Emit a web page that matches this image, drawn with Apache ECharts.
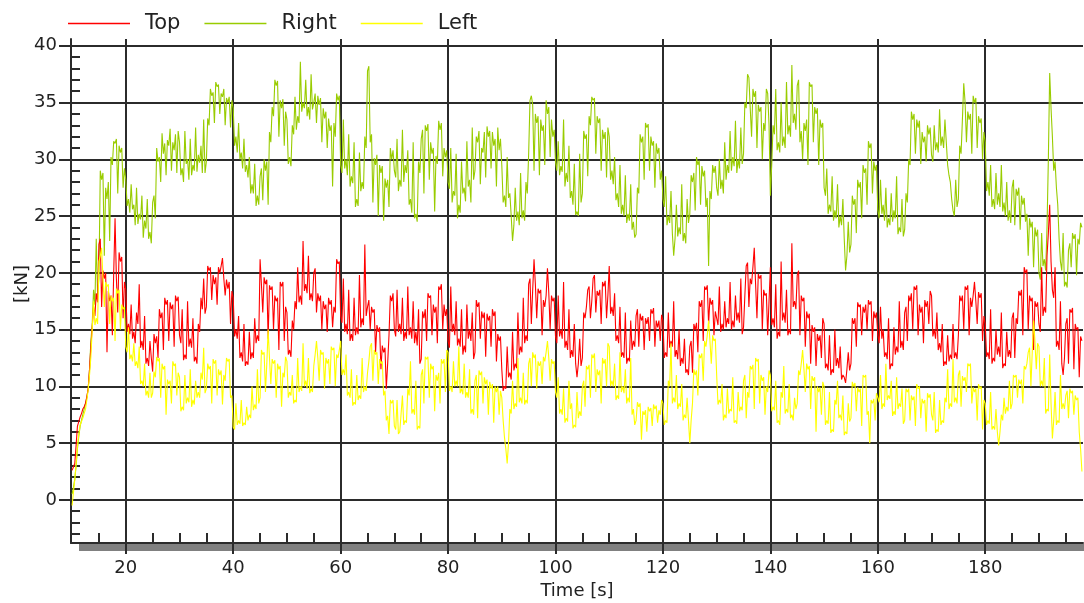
<!DOCTYPE html>
<html>
<head>
<meta charset="utf-8">
<script src="https://cdn.jsdelivr.net/npm/echarts@6/dist/echarts.min.js"></script>
<style>
html,body{margin:0;padding:0;background:#fff;}
#chart{width:1084px;height:603px;}
</style>
</head>
<body>
<div id="chart"></div>
<script>
// sampling of the traces: main samples every 0.5 s from 10 s, mid samples 0.25 s after each main sample
const T0 = 10, DT = 0.5, MID_OFFSET = 0.25;

const seriesNames = ['Top', 'Right', 'Left'];

// Right [kN] — main samples
const rightValues = [
0.5,1.8,4.5,6.5,7.5,8.5,9.8,14.0,18.5,23.0,19.5,28.2,21.5,26.5,22.8,29.5,31.4,27.0,30.6,27.5,
28.2,26.5,27.8,26.0,27.5,25.2,26.8,24.6,26.5,23.6,26.2,24.8,29.8,28.0,30.5,28.6,31.2,29.0,30.8,28.8,
31.5,29.2,32.5,30.0,31.8,29.5,32.8,30.4,31.2,33.5,29.8,33.0,35.6,33.2,36.4,34.0,35.5,33.0,35.0,32.8,
34.5,32.0,33.2,30.6,31.8,29.5,30.2,27.8,29.6,26.8,28.5,26.4,29.0,26.0,31.5,33.8,36.5,32.0,34.5,31.2,
33.5,30.2,33.0,35.5,33.8,38.6,35.0,37.0,34.6,37.5,35.0,33.2,34.8,31.5,33.6,31.0,32.5,27.6,32.0,35.2,
29.5,33.5,30.0,32.2,28.5,31.5,26.5,30.6,28.0,32.0,37.8,31.5,26.2,29.5,25.0,28.8,24.6,27.5,25.8,30.0,
29.0,31.8,28.2,32.6,29.5,30.8,26.5,31.5,25.2,29.8,31.8,27.0,32.5,28.2,30.5,25.4,29.6,32.6,28.5,30.2,
28.0,31.0,27.2,30.5,26.0,29.8,27.5,31.6,28.2,32.8,29.0,31.5,27.8,30.6,28.4,32.0,29.2,31.2,27.6,30.8,
29.5,26.8,30.2,27.0,22.8,27.5,25.4,28.8,25.5,28.0,30.5,35.6,29.0,33.2,28.6,32.5,29.5,34.0,30.2,32.0,
29.8,31.6,29.4,33.5,28.8,31.2,27.2,29.6,25.4,30.5,27.0,31.8,28.5,33.0,35.2,30.5,33.2,29.0,31.8,28.4,
32.0,29.0,30.2,27.0,29.5,26.0,28.6,25.2,27.8,24.5,23.4,27.0,31.5,28.2,32.8,29.0,31.2,27.5,30.5,28.2,
26.5,28.5,25.0,27.2,21.5,26.0,24.0,27.8,23.5,26.5,25.2,28.0,25.5,29.5,26.0,28.5,25.8,20.6,26.5,28.8,
27.5,30.0,28.2,31.5,29.5,32.5,30.2,33.4,30.0,32.8,30.5,34.5,37.2,32.0,35.5,31.0,34.2,30.0,32.5,35.8,
26.8,33.0,36.2,31.5,35.0,32.0,36.8,33.0,38.3,34.0,36.5,31.5,30.0,32.5,29.5,36.4,31.5,34.0,29.5,32.8,
27.5,29.2,26.0,28.5,25.5,27.8,25.0,26.5,20.2,24.5,22.5,26.0,23.5,27.5,24.8,28.8,26.0,31.0,27.0,29.0,
25.5,28.2,26.0,27.5,24.8,27.0,25.5,28.5,24.0,26.5,23.8,26.2,29.5,33.5,30.5,32.8,29.6,31.5,29.8,32.2,
30.4,33.0,31.5,34.4,32.0,33.5,29.5,28.0,25.5,28.2,26.5,30.5,36.7,31.5,33.5,30.5,35.0,31.0,33.2,30.0,
31.5,28.0,29.5,26.5,28.8,27.0,29.5,26.2,28.0,25.5,27.5,24.2,26.8,23.8,26.0,24.5,21.5,24.0,20.5,23.2,
20.0,23.5,21.2,24.0,37.6,32.0,29.8,26.0,21.0,23.5,19.2,22.0,20.5,23.0,19.8,22.5,24.0
];
// Right [kN] — mid samples
const rightMid = [
1.1,3.0,5.6,7.0,8.0,9.0,11.5,15.5,17.2,18.0,29.0,28.8,27.5,28.0,30.2,31.6,31.8,31.2,31.0,29.2,
25.9,25.3,25.6,24.2,24.3,24.7,23.1,23.9,23.0,22.6,26.8,31.0,30.2,32.3,31.4,31.7,32.7,31.5,32.2,32.5,
28.6,28.0,29.6,28.2,28.6,29.0,28.9,29.7,28.8,28.8,33.6,36.2,35.9,36.8,36.6,35.8,36.2,35.4,35.5,35.2,
31.2,30.6,30.0,29.2,28.9,28.4,27.0,27.0,25.9,26.0,29.2,30.0,29.8,32.4,34.6,37.0,36.9,35.2,35.3,34.2,
29.6,29.4,32.2,32.6,33.2,34.2,34.5,33.8,33.5,34.4,35.8,35.6,35.4,34.5,34.2,33.6,33.0,33.2,35.8,35.6,
28.8,29.2,28.6,27.6,27.9,25.8,25.9,27.2,27.4,31.0,38.2,32.2,30.1,30.4,29.5,29.4,28.3,28.2,31.0,30.8,
28.4,27.2,27.6,28.0,28.8,26.0,25.3,24.8,24.5,28.8,32.6,33.0,33.1,31.5,31.0,30.3,33.4,33.2,31.0,30.8,
27.4,26.2,26.8,24.8,25.3,27.0,26.3,27.6,26.2,28.2,32.0,32.5,31.0,32.4,32.9,32.5,32.4,31.8,32.8,31.8,
26.2,25.8,26.6,25.0,24.2,24.6,24.2,24.8,24.6,27.0,35.2,34.8,34.0,33.8,33.5,33.0,35.2,34.6,33.5,32.6,
29.0,28.6,28.9,27.6,28.0,26.6,26.0,25.1,25.0,26.2,32.5,32.2,33.8,35.5,35.4,33.8,33.6,32.6,32.4,32.8,
28.2,27.8,26.4,25.8,25.2,25.0,24.4,24.6,23.8,23.1,27.5,32.2,32.0,33.2,33.1,32.0,31.6,31.4,31.0,29.0,
25.8,24.2,24.4,23.5,23.0,23.2,23.4,22.8,22.6,24.4,28.6,28.8,30.2,29.9,29.4,29.0,26.6,27.2,29.5,29.4,
26.8,27.4,27.0,28.2,28.8,29.0,29.4,28.8,29.2,29.6,35.0,37.5,34.5,36.2,36.0,34.8,34.6,33.2,36.2,33.0,
29.5,32.2,30.8,30.6,31.2,31.0,32.2,32.0,33.2,32.6,37.0,32.5,33.2,33.5,36.8,36.6,34.6,34.5,33.5,33.2,
26.8,25.2,25.4,24.6,24.8,24.0,24.2,23.0,21.5,21.8,26.8,26.5,28.2,28.0,29.5,29.2,31.6,31.4,29.8,29.5,
24.8,25.2,24.6,24.0,24.2,24.5,24.8,23.4,23.6,23.2,27.0,30.0,34.2,34.0,33.5,33.4,32.4,32.0,33.0,32.8,
29.8,30.8,30.6,31.2,31.0,31.5,28.6,26.5,25.0,25.8,31.2,33.5,35.0,34.2,34.0,35.6,35.4,33.8,33.6,32.4,
27.2,26.8,25.8,25.6,26.0,25.8,25.4,25.0,24.6,24.4,28.2,27.4,27.5,26.8,26.6,25.2,24.8,24.5,24.0,23.8,
19.4,20.6,20.2,30.0,34.5,29.0,27.5,23.0,20.2,18.8,18.7,22.6,23.5,23.4,23.0,24.4
];

// Top [kN] — main samples
const topValues = [
2.6,3.2,6.5,7.3,8.0,8.5,9.8,13.5,17.0,18.2,22.5,17.0,19.5,13.0,17.5,14.5,24.8,16.5,21.0,16.0,
18.5,15.5,17.2,14.8,16.5,19.0,14.0,16.2,12.5,14.0,11.3,13.8,12.5,16.0,13.2,17.2,14.0,16.8,13.5,17.5,
14.5,16.8,12.8,17.5,14.2,16.0,12.6,15.5,17.8,19.5,17.0,20.2,17.6,19.0,17.2,20.0,21.3,18.0,18.6,15.5,
17.8,15.0,16.2,13.0,15.5,12.2,14.8,13.0,16.0,14.5,21.2,16.5,19.0,14.2,18.5,15.0,17.5,13.2,18.8,14.0,
16.5,13.2,15.8,17.5,20.5,18.0,22.8,19.0,21.5,18.2,20.0,16.5,17.5,15.0,16.8,14.8,17.2,15.2,16.5,20.8,
16.2,19.5,15.5,18.5,14.6,17.8,15.2,19.8,16.0,22.5,17.0,15.0,16.5,13.0,14.8,11.5,13.0,9.8,14.5,17.5,
15.0,18.5,15.5,17.8,14.8,18.8,15.2,17.5,14.8,16.8,12.4,16.0,14.0,17.8,14.5,16.5,13.8,18.5,15.0,16.2,
14.0,18.8,15.5,17.5,14.2,16.8,13.6,17.2,15.0,16.5,13.0,17.0,14.2,16.0,12.6,15.8,13.5,16.2,12.2,14.0,
11.5,10.0,13.5,11.2,14.8,12.0,16.5,13.5,17.8,14.5,19.0,15.5,21.2,16.0,18.2,14.5,17.0,20.4,15.0,17.5,
14.4,18.0,15.0,19.2,14.0,16.8,13.2,15.5,10.8,14.2,12.5,16.0,18.5,16.0,19.5,16.5,18.0,15.5,18.8,16.0,
20.6,17.0,18.2,14.5,17.0,13.0,16.5,12.5,15.8,14.0,16.2,13.5,15.8,13.2,15.5,14.0,16.4,13.5,15.2,14.0,
15.8,13.0,16.5,14.0,17.5,13.2,15.0,12.5,14.2,11.5,13.5,11.2,15.0,13.0,17.0,14.0,18.5,15.5,17.2,14.5,
16.0,18.8,15.5,17.5,16.0,19.2,15.8,18.0,16.5,19.5,15.2,20.6,17.0,19.0,22.2,16.0,19.5,15.0,18.0,14.5,
20.5,16.0,19.0,14.8,21.0,16.5,18.5,15.0,22.6,17.5,19.8,14.5,17.5,13.5,16.0,12.0,14.8,11.8,14.0,12.5,
15.5,12.0,14.5,11.5,15.0,12.5,13.5,11.0,10.3,13.0,12.0,15.5,13.5,17.0,14.5,16.5,15.0,17.2,14.0,16.0,
14.5,17.0,15.0,13.0,16.0,12.0,15.2,13.5,17.5,14.0,16.5,14.0,17.5,15.0,18.5,14.5,16.5,13.8,17.0,15.5,
18.0,15.0,16.5,13.8,15.5,12.2,14.5,12.8,15.5,13.0,14.5,17.5,15.0,18.5,14.5,17.0,19.2,15.5,17.8,14.0,
15.5,13.0,16.8,12.5,15.0,13.5,16.5,12.0,14.8,13.2,16.0,12.5,15.5,18.0,14.5,20.0,15.0,17.5,13.2,17.0,
15.5,20.5,17.0,21.5,26.0,18.5,20.5,14.0,17.5,11.0,15.5,12.0,16.5,11.5,15.0,10.8,14.0
];
// Top [kN] — mid samples
const topMid = [
2.9,4.8,6.9,7.6,8.2,9.1,11.5,15.2,16.2,17.4,23.0,20.2,20.0,18.4,18.0,20.0,19.5,21.8,21.4,19.2,
14.8,14.6,14.2,13.8,15.5,13.4,13.2,12.0,11.8,12.5,14.6,14.4,16.8,16.5,17.8,17.6,17.4,17.2,18.0,17.9,
13.8,12.3,12.4,13.5,13.4,12.2,12.0,14.8,16.8,16.4,20.6,20.5,19.8,19.6,20.5,20.6,19.5,19.4,19.2,18.4,
14.4,14.2,12.5,12.2,11.8,11.9,12.4,12.5,13.8,14.0,19.0,19.6,19.4,18.9,18.8,18.0,17.8,19.2,19.2,17.0,
12.8,12.6,15.0,16.8,17.4,17.2,18.4,18.2,17.6,17.5,20.4,18.2,18.0,17.5,17.2,17.8,17.6,17.0,21.2,21.0,
15.6,14.8,14.6,14.0,14.0,14.5,14.6,15.2,15.4,16.2,17.6,17.0,16.8,15.4,15.2,13.6,13.4,12.0,18.0,18.2,
14.4,14.8,14.6,14.0,14.2,14.5,14.2,13.8,13.6,12.0,16.6,16.8,18.2,18.0,17.2,17.0,18.8,19.0,17.2,16.8,
13.4,14.8,14.5,13.6,13.5,12.8,13.0,14.2,14.0,12.4,17.6,17.4,16.6,16.5,16.4,16.2,16.8,16.6,14.6,14.4,
9.6,9.8,10.8,10.6,11.4,11.6,12.8,13.0,13.8,14.0,19.5,18.5,19.0,18.6,18.5,17.6,18.0,18.2,18.0,17.8,
13.8,14.4,14.2,13.4,13.2,12.5,12.6,12.0,12.0,11.8,16.5,17.0,18.8,17.5,19.8,18.4,18.5,19.2,19.3,18.0,
16.4,16.2,14.0,13.8,12.6,12.5,12.0,12.2,13.2,13.5,16.8,16.4,16.2,16.0,16.1,16.8,16.9,15.8,15.8,16.3,
12.5,12.6,13.4,13.5,12.6,12.4,11.8,12.0,11.2,11.0,14.0,15.5,15.6,17.5,17.6,18.8,18.9,17.8,17.6,16.6,
15.4,14.8,15.0,15.2,15.5,15.0,15.2,15.8,15.6,14.6,18.0,20.9,19.5,20.5,19.0,19.9,19.8,18.5,18.2,17.5,
15.4,15.2,14.2,14.4,15.8,15.6,14.5,14.6,17.0,16.8,20.2,18.0,17.8,16.6,16.4,15.4,15.2,14.6,14.5,16.0,
11.6,11.4,11.0,11.2,11.8,11.6,10.6,10.8,11.5,11.4,16.0,16.0,17.4,17.2,17.0,17.2,17.6,17.5,16.6,16.5,
13.8,14.2,12.6,12.4,11.5,11.8,12.8,13.0,13.4,13.2,17.0,18.0,18.2,18.8,18.9,17.2,17.0,17.6,17.5,18.4,
14.4,14.2,13.2,13.0,11.8,11.9,12.2,12.4,12.5,12.4,18.0,18.0,18.8,18.9,17.8,18.0,17.5,18.3,18.2,16.2,
12.6,12.4,12.0,12.2,12.8,12.6,11.6,11.8,12.6,12.5,16.5,16.0,18.4,18.5,20.5,20.3,18.0,17.8,17.5,17.4,
14.8,16.2,16.5,23.5,21.0,17.8,13.5,13.2,12.0,12.5,16.0,16.8,16.9,15.5,15.2,14.4
];

// Left [kN] — main samples
const leftValues = [
-0.5,1.8,4.7,6.6,7.2,8.0,9.7,12.6,17.5,16.0,21.0,22.2,17.0,18.8,15.5,17.5,14.0,18.2,15.0,16.8,
13.5,15.2,12.8,13.8,12.2,13.5,10.5,12.0,9.6,11.2,9.4,10.8,12.2,9.0,11.5,7.5,10.2,8.5,11.8,9.2,
10.8,8.2,11.0,9.0,11.5,8.8,10.5,9.5,11.2,13.4,9.8,11.5,8.5,12.0,9.2,11.0,8.4,10.5,12.2,9.0,
6.4,8.5,7.0,8.8,6.8,8.2,7.5,10.0,8.4,11.5,9.0,12.8,9.5,15.0,10.2,12.0,9.0,11.5,8.2,10.8,
12.2,9.5,11.0,8.8,12.5,10.0,13.8,10.5,12.5,9.8,11.8,14.0,10.5,12.8,9.8,12.0,10.2,13.2,10.0,12.5,
14.0,11.5,12.8,9.5,11.5,8.6,11.0,9.2,12.5,10.0,11.2,13.5,10.5,12.8,10.2,12.0,9.2,7.0,5.8,8.5,
6.5,8.8,6.0,9.2,7.0,9.8,12.2,8.0,10.5,6.5,11.0,8.5,12.4,9.0,11.5,7.8,10.5,8.5,12.0,9.5,
13.0,10.0,12.2,10.5,13.5,9.8,12.0,9.5,11.5,8.0,10.5,7.2,11.0,8.5,10.2,7.5,9.8,6.8,9.5,7.5,
9.0,5.5,3.2,8.0,10.5,8.5,12.5,9.0,11.2,8.8,12.0,10.0,12.5,9.8,11.8,10.2,12.2,14.0,10.5,12.0,
9.5,10.8,8.0,9.8,7.2,10.5,8.5,6.6,9.5,7.8,10.0,8.2,11.5,9.0,12.5,9.5,11.0,8.5,12.0,10.0,
13.5,10.5,12.0,9.2,13.0,10.0,11.5,9.0,12.5,8.0,7.0,8.2,5.3,7.5,6.0,7.8,6.5,8.0,6.8,7.5,
8.5,7.0,10.5,13.8,9.0,11.0,8.5,10.2,7.5,9.0,5.0,8.5,11.0,9.2,12.5,10.5,13.5,15.8,12.0,14.0,
11.0,8.8,10.2,7.5,9.8,8.0,10.8,7.0,9.5,8.2,10.5,7.2,9.0,11.5,8.0,12.2,8.5,10.5,7.5,9.5,
11.0,8.2,10.5,7.0,9.5,11.8,8.0,10.2,7.5,9.0,8.5,11.0,13.2,9.5,11.5,8.0,10.5,6.0,9.5,7.5,
10.0,7.0,9.5,6.2,8.8,10.5,7.5,9.2,6.0,8.5,7.2,10.0,7.8,9.5,6.5,10.8,7.5,5.0,8.5,7.0,
9.0,11.0,8.5,12.0,9.2,10.5,7.8,10.8,8.5,9.8,7.0,9.5,7.0,8.8,6.5,9.8,7.2,8.5,6.0,9.0,
7.5,9.5,6.2,8.8,7.0,9.0,11.5,8.5,12.4,9.0,11.0,8.2,10.5,9.5,11.8,8.5,9.5,7.0,9.8,6.2,
8.5,7.0,9.5,6.5,8.0,4.8,7.5,9.0,8.2,10.5,8.5,10.8,9.0,10.2,8.5,11.5,13.0,10.0,15.8,11.5,
13.5,10.5,12.5,8.0,12.8,5.4,9.5,7.0,11.0,8.5,9.2,7.2,9.4,7.5,8.8,6.0,2.5
];
// Left [kN] — mid samples
const leftMid = [
0.6,3.2,5.8,6.9,7.6,8.8,11.0,15.0,15.4,15.5,21.5,19.5,19.2,19.0,18.0,17.8,18.6,18.5,17.2,17.0,
13.0,12.4,12.2,11.8,11.6,10.2,10.0,9.2,9.0,9.0,11.3,12.6,12.5,12.0,11.8,10.6,10.5,12.2,12.0,11.2,
7.8,7.9,8.5,8.6,8.2,8.4,9.0,9.0,10.6,9.4,12.0,11.8,12.4,12.3,11.5,11.4,11.0,12.5,12.4,9.2,
6.2,6.6,6.7,6.5,6.6,7.0,7.2,7.9,8.0,8.5,13.2,13.0,12.0,12.5,12.4,12.3,12.0,11.8,11.2,12.6,
9.0,9.2,8.5,8.6,9.5,9.6,10.0,9.8,9.4,9.5,12.8,12.5,13.2,13.0,12.5,12.4,13.5,13.4,12.8,13.2,
11.0,11.0,9.2,9.0,8.3,8.4,8.8,8.9,9.5,9.6,12.2,13.8,13.2,13.0,12.4,12.2,9.6,7.4,8.8,8.8,
6.2,5.8,5.9,6.6,6.8,9.2,7.6,7.5,6.2,6.3,11.5,12.6,12.6,12.0,11.8,11.0,11.2,12.4,12.4,13.2,
9.6,9.5,10.0,10.0,9.4,9.3,9.0,9.0,7.6,7.5,11.0,11.4,11.3,10.8,10.6,10.4,10.2,10.0,10.0,9.6,
7.0,4.5,5.0,7.6,8.0,8.2,8.6,8.5,8.4,8.5,12.5,13.0,12.8,12.2,12.2,12.6,13.0,12.5,12.4,12.2,
9.0,7.6,7.5,6.8,6.9,8.0,6.3,6.4,7.2,7.4,10.5,11.8,11.9,12.8,12.9,11.5,11.4,12.5,12.4,13.8,
10.0,10.0,8.8,8.9,9.5,9.4,8.5,8.6,7.5,6.6,8.6,8.5,7.8,7.9,8.2,8.1,8.4,8.3,7.9,8.8,
6.6,6.8,10.0,8.5,8.6,8.0,8.2,7.0,7.2,7.0,7.0,11.5,11.4,12.8,12.9,14.0,14.5,14.0,14.5,14.2,
8.4,8.5,7.0,7.2,7.6,7.8,6.8,6.7,7.8,7.9,11.0,9.5,11.8,11.9,12.5,12.4,11.0,10.8,10.0,11.4,
7.8,7.9,6.8,6.6,9.0,7.6,7.7,7.2,7.0,8.0,11.4,12.0,11.5,12.0,11.8,10.9,10.8,10.0,9.9,10.4,
6.6,6.7,5.9,6.0,8.4,7.2,7.0,5.7,5.8,6.9,10.4,10.3,9.9,9.8,11.0,11.0,7.8,8.8,8.9,9.4,
8.6,8.0,8.2,8.8,8.9,7.4,7.5,8.0,8.2,6.7,9.8,9.8,9.2,9.1,10.2,10.0,8.9,8.8,9.4,9.3,
7.0,5.9,6.0,6.6,6.8,8.6,8.0,8.2,8.6,8.5,11.4,10.9,10.8,12.0,12.0,9.9,9.8,10.2,10.0,8.8,
6.6,6.7,6.2,6.2,6.0,6.0,7.0,7.6,7.8,8.0,11.0,11.0,10.6,10.6,11.8,12.0,13.4,13.0,14.0,13.8,
10.0,10.0,7.6,7.8,8.5,7.0,6.6,6.8,8.0,8.0,9.6,9.8,9.6,9.2,9.0,4.5
];

// axis ticks and labels
const xTickValues = [20, 40, 60, 80, 100, 120, 140, 160, 180];
const yTickValues = [0, 5, 10, 15, 20, 25, 30, 35, 40];
const xMinorTicks = [];
for (let v = 15; v <= 195; v += 5) if (v % 20 !== 0) xMinorTicks.push(v);
const yMinorTicks = [];
for (let v = -3; v <= 40; v += 1) if (v % 5 !== 0) yMinorTicks.push(v);

const X_MIN = 9.8, X_MAX = 198.2, Y_MIN = -3.8, Y_MAX = 40.6;

// interleave main and mid samples into [time, value] pairs
function toPairs(main, mid) {
  const out = [];
  for (let i = 0; i < main.length; i++) {
    out.push([T0 + i * DT, main[i]]);
    if (i < mid.length) out.push([T0 + i * DT + MID_OFFSET, mid[i]]);
  }
  return out;
}

const FONT = 'DejaVu Sans';
const AX = '#2b2b2b';

const chart = echarts.init(document.getElementById('chart'), null, { renderer: 'canvas' });
chart.setOption({
  animation: false,
  backgroundColor: '#ffffff',
  textStyle: { fontFamily: FONT },
  legend: {
    data: seriesNames,
    left: 63, top: 8,
    icon: 'rect',
    itemWidth: 62, itemHeight: 1.6, itemGap: 24,
    textStyle: { fontFamily: FONT, fontSize: 21, color: '#222', padding: [0, 0, 0, 10] }
  },
  grid: { left: 71, right: 1, top: 39, bottom: 60, containLabel: false, outerBoundsMode: 'none' },
  xAxis: [{
    type: 'value', min: X_MIN, max: X_MAX, minInterval: 20, maxInterval: 20, position: 'bottom',
    name: 'Time [s]', nameLocation: 'middle', nameGap: 39, nameMoveOverlap: false,
    nameTextStyle: { fontFamily: FONT, fontSize: 18, color: '#222' },
    axisLine: { show: true, onZero: false, lineStyle: { color: AX, width: 2 } },
    axisTick: { show: true, inside: false, length: 11, customValues: xTickValues, lineStyle: { color: AX, width: 2 } },
    axisLabel: { customValues: xTickValues, margin: 16, fontFamily: FONT, fontSize: 18, color: '#222' },
    splitLine: { show: true, lineStyle: { color: AX, width: 2 } }
  }, {
    type: 'value', min: X_MIN, max: X_MAX, position: 'bottom', gridIndex: 0,
    axisLine: { show: false, onZero: false },
    axisTick: { show: true, inside: true, length: 10, customValues: xMinorTicks, lineStyle: { color: AX, width: 2 } },
    axisLabel: { show: false },
    splitLine: { show: false }
  }],
  yAxis: [{
    type: 'value', min: Y_MIN, max: Y_MAX, minInterval: 5, maxInterval: 5, position: 'left',
    name: '[kN]', nameLocation: 'middle', nameGap: 40, nameRotate: 90, nameMoveOverlap: false,
    nameTextStyle: { fontFamily: FONT, fontSize: 18, color: '#222', padding: [0, 0, 0, 14] },
    axisLine: { show: true, onZero: false, lineStyle: { color: AX, width: 2 } },
    axisTick: { show: true, inside: false, length: 12, customValues: yTickValues, lineStyle: { color: AX, width: 2 } },
    axisLabel: { customValues: yTickValues, margin: 14, fontFamily: FONT, fontSize: 18, color: '#222' },
    splitLine: { show: true, lineStyle: { color: AX, width: 2 } }
  }, {
    type: 'value', min: Y_MIN, max: Y_MAX, position: 'left', gridIndex: 0,
    axisLine: { show: false, onZero: false },
    axisTick: { show: true, inside: true, length: 9, customValues: yMinorTicks, lineStyle: { color: AX, width: 2 } },
    axisLabel: { show: false },
    splitLine: { show: false }
  }],
  graphic: [{
    type: 'rect', z: -10, silent: true,
    shape: { x: 79, y: 544, width: 1005, height: 7 },
    style: { fill: '#808080' }
  }],
  series: [
    { name: 'Right', type: 'line', data: toPairs(rightValues, rightMid), showSymbol: false, symbol: 'none',
      lineStyle: { color: '#99cc00', width: 1.1 }, itemStyle: { color: '#99cc00' }, z: 2 },
    { name: 'Top', type: 'line', data: toPairs(topValues, topMid), showSymbol: false, symbol: 'none',
      lineStyle: { color: '#ff0000', width: 1.1 }, itemStyle: { color: '#ff0000' }, z: 3 },
    { name: 'Left', type: 'line', data: toPairs(leftValues, leftMid), showSymbol: false, symbol: 'none',
      lineStyle: { color: '#ffff00', width: 1.1 }, itemStyle: { color: '#ffff00' }, z: 4 }
  ]
});
</script>
</body>
</html>
